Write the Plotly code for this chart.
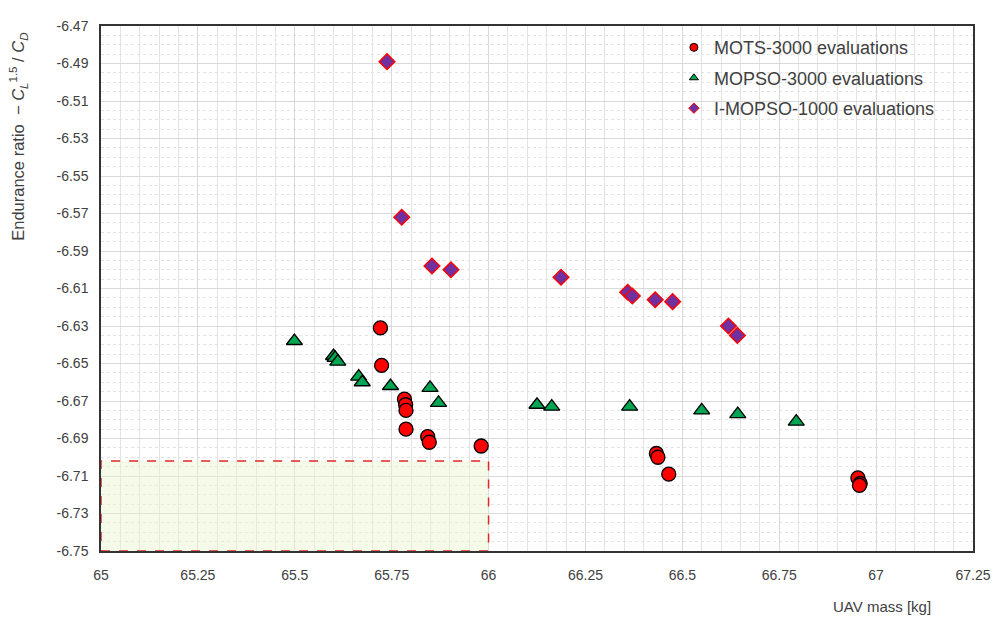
import plotly.graph_objects as go

# MOTS-3000 evaluations (red circles)
mots_x = [65.721, 65.724, 65.783, 65.786, 65.787, 65.787, 65.843, 65.847, 65.981,
          66.433, 66.437, 66.465, 66.953, 66.959, 66.957]
mots_y = [-6.631, -6.651, -6.669, -6.672, -6.675, -6.685, -6.689, -6.692, -6.694,
          -6.698, -6.700, -6.709, -6.711, -6.714, -6.715]

# MOPSO-3000 evaluations (green triangles)
mopso_x = [65.499, 65.600, 65.604, 65.611, 65.665, 65.674, 65.747, 65.849, 65.871,
           66.125, 66.163, 66.364, 66.550, 66.643, 66.794]
mopso_y = [-6.638, -6.646, -6.647, -6.649, -6.657, -6.660, -6.662, -6.663, -6.671,
           -6.672, -6.673, -6.673, -6.675, -6.677, -6.681]

# I-MOPSO-1000 evaluations (purple diamonds)
imopso_x = [65.738, 65.776, 65.854, 65.903, 66.187, 66.359, 66.371, 66.430, 66.475,
            66.619, 66.642]
imopso_y = [-6.489, -6.572, -6.598, -6.600, -6.604, -6.612, -6.614, -6.616, -6.617,
            -6.630, -6.635]

# Target region box
box_x = [65.0, 66.0]
box_y = [-6.75, -6.702]

x_ticks = [65, 65.25, 65.5, 65.75, 66, 66.25, 66.5, 66.75, 67, 67.25]
x_ticktext = ["65", "65.25", "65.5", "65.75", "66", "66.25", "66.5", "66.75", "67", "67.25"]
y_ticks = [-6.47, -6.49, -6.51, -6.53, -6.55, -6.57, -6.59, -6.61, -6.63, -6.65,
           -6.67, -6.69, -6.71, -6.73, -6.75]
y_ticktext = ["%.2f" % v for v in y_ticks]

names = ["MOTS-3000 evaluations", "MOPSO-3000 evaluations", "I-MOPSO-1000 evaluations"]

FONT = "Liberation Sans, Arial, sans-serif"
TXT = "#404040"

fig = go.Figure()

fig.add_shape(type="rect", x0=box_x[0], x1=box_x[1], y0=box_y[0], y1=box_y[1],
              xref="x", yref="y", layer="between",
              fillcolor="rgba(236,245,205,0.45)",
              line=dict(color="#e02828", width=1.5, dash="dash"))

fig.add_trace(go.Scatter(x=mots_x, y=mots_y, mode="markers", showlegend=False,
                         marker=dict(symbol="circle", size=14, color="#ff0000",
                                     line=dict(color="#000000", width=1.3))))
fig.add_trace(go.Scatter(x=mopso_x, y=mopso_y, mode="markers", showlegend=False,
                         marker=dict(symbol="triangle-up", size=14, color="#00a651",
                                     line=dict(color="#000000", width=1.3))))
fig.add_trace(go.Scatter(x=imopso_x, y=imopso_y, mode="markers", showlegend=False,
                         marker=dict(symbol="diamond", size=12, color="#7030a0",
                                     line=dict(color="#ff0000", width=1.5))))

# legend entries with small markers
fig.add_trace(go.Scatter(x=[None], y=[None], mode="markers", name=names[0], legendgroup="a",
                         marker=dict(symbol="circle", size=8, color="#ff0000",
                                     line=dict(color="#000000", width=1))))
fig.add_trace(go.Scatter(x=[None], y=[None], mode="markers", name=names[1], legendgroup="b",
                         marker=dict(symbol="triangle-up", size=8, color="#00a651",
                                     line=dict(color="#000000", width=1))))
fig.add_trace(go.Scatter(x=[None], y=[None], mode="markers", name=names[2], legendgroup="c",
                         marker=dict(symbol="diamond", size=8, color="#7030a0",
                                     line=dict(color="#ff0000", width=1))))

axis_common = dict(showline=True, mirror=True, linecolor="#333333", linewidth=1.5,
                   ticks="", zeroline=False,
                   gridcolor="#d9d9d9", gridwidth=1,
                   tickfont=dict(family=FONT, size=14, color=TXT))

fig.update_xaxes(range=[65, 67.25], tickvals=x_ticks, ticktext=x_ticktext,
                 ticklabelstandoff=10,
                 minor=dict(dtick=0.05, tick0=65, showgrid=True, gridcolor="#e3e3e3",
                            griddash="solid", gridwidth=1),
                 **axis_common)
fig.update_yaxes(range=[-6.75, -6.47], tickvals=y_ticks, ticktext=y_ticktext,
                 ticklabelstandoff=8,
                 minor=dict(dtick=0.005, tick0=-6.47, showgrid=True, gridcolor="#e3e3e3",
                            griddash="dot", gridwidth=1),
                 **axis_common)

fig.add_annotation(text="Endurance ratio  − <i>C</i><sub><i>L</i></sub><sup>1.5</sup> / <i>C</i><sub><i>D</i></sub>",
                   xref="paper", yref="paper", x=-0.0952, y=0.789, textangle=-90,
                   showarrow=False, xanchor="center", yanchor="middle",
                   font=dict(family=FONT, size=16.5, color=TXT))
fig.add_annotation(text="UAV mass [kg]", xref="paper", yref="paper", x=0.8956, y=-0.105,
                   showarrow=False, xanchor="center", yanchor="middle",
                   font=dict(family=FONT, size=15, color=TXT))

# page body has an 8px margin: figure is sized/offset to compensate
fig.update_layout(
    width=993, height=610,
    margin=dict(l=93, r=28, t=10, b=67),
    plot_bgcolor="white", paper_bgcolor="white",
    font=dict(family=FONT, color=TXT),
    legend=dict(x=0.657, y=0.994, xanchor="left", yanchor="top",
                bgcolor="rgba(255,255,255,0)", tracegroupgap=4,
                font=dict(family=FONT, size=18, color=TXT)),
)

fig.write_html("out.html")
